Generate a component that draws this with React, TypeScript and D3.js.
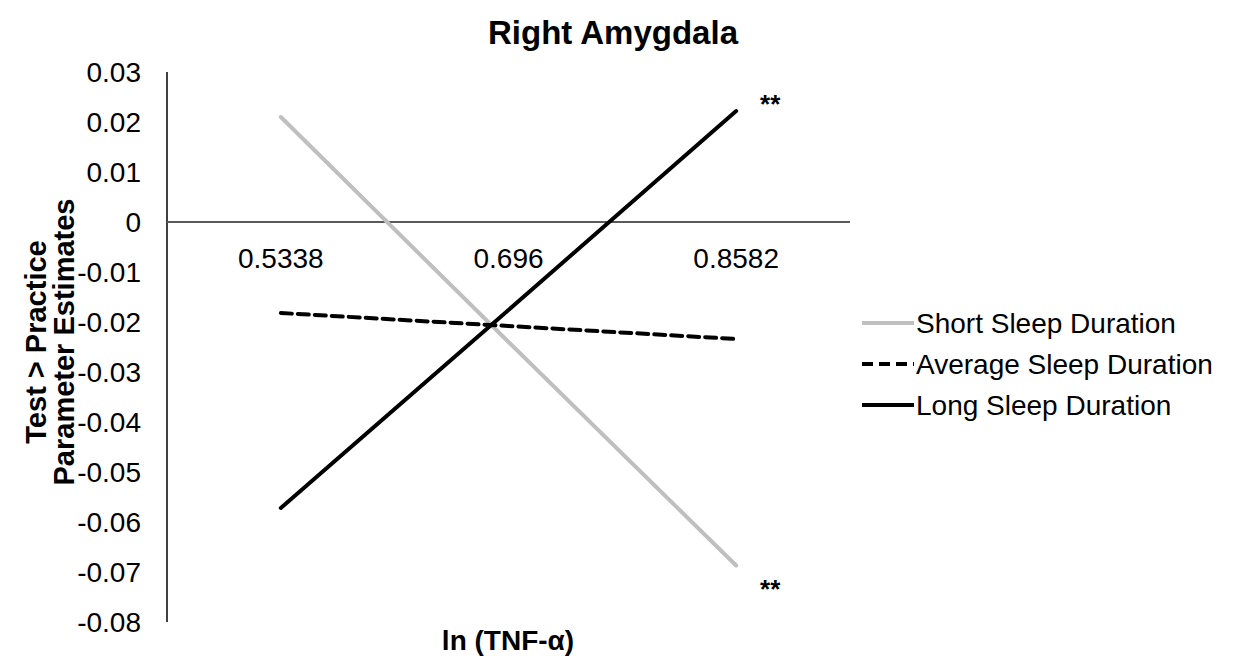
import React from "react";
import * as d3 from "d3";

const categories = ["0.5338", "0.696", "0.8582"];
const shortSleep = [0.021, -0.024, -0.0687];
const averageSleep = [-0.0182, -0.0208, -0.0234];
const longSleep = [-0.0572, -0.0176, 0.0222];
const yTicks = [0.03, 0.02, 0.01, 0, -0.01, -0.02, -0.03, -0.04, -0.05, -0.06, -0.07, -0.08];
const seriesNames = ["Short Sleep Duration", "Average Sleep Duration", "Long Sleep Duration"];
const annotations = [
  { cat: "0.8582", value: 0.0222, text: "**" },
  { cat: "0.8582", value: -0.0687, text: "**" },
];

const W = 1235;
const H = 664;
const FONT = "'Liberation Sans', Arial, Helvetica, sans-serif";

export default function App() {
  const x = d3.scaleBand<string>().domain(categories).range([167, 850]);
  const y = d3.scaleLinear().domain([-0.08, 0.03]).range([622, 72]);
  const cx = (c: string) => (x(c) as number) + x.bandwidth() / 2;

  const line = d3
    .line<number>()
    .x((_, i) => cx(categories[i]))
    .y((d) => y(d));

  const series = [
    { name: seriesNames[0], values: shortSleep, color: "#BFBFBF", dash: undefined },
    { name: seriesNames[1], values: averageSleep, color: "#000000", dash: "11,6" },
    { name: seriesNames[2], values: longSleep, color: "#000000", dash: undefined },
  ];

  return (
    <svg
      width={W}
      height={H}
      style={{ position: "absolute", left: 0, top: 0, background: "#fff" }}
      fontFamily={FONT}
    >
      <rect width={W} height={H} fill="#fff" />
      <text x={613} y={44} textAnchor="middle" fontSize={33} fontWeight="bold">
        Right Amygdala
      </text>

      {/* y ticks */}
      {yTicks.map((t) => (
        <text key={t} x={141} y={y(t)} dy="0.36em" textAnchor="end" fontSize={28}>
          {t === 0 ? "0" : d3.format(".2f")(t).replace("−", "-")}
        </text>
      ))}

      {/* y axis */}
      <line x1={167} x2={167} y1={y(0.03)} y2={y(-0.08)} stroke="#000" strokeWidth={1.5} />
      {/* zero line */}
      <line x1={167} x2={850} y1={y(0)} y2={y(0)} stroke="#595959" strokeWidth={2} />

      {/* category labels */}
      {categories.map((c) => (
        <text key={c} x={cx(c)} y={y(0) + 46} textAnchor="middle" fontSize={28}>
          {c}
        </text>
      ))}

      {/* lines */}
      {series.map((s) => (
        <path
          key={s.name}
          d={line(s.values) || ""}
          fill="none"
          stroke={s.color}
          strokeWidth={4}
          strokeDasharray={s.dash}
          strokeLinecap="round"
        />
      ))}

      {annotations.map((a, i) => (
        <text
          key={i}
          x={cx(a.cat) + 34}
          y={y(a.value) + (a.value > 0 ? 2 : 32)}
          textAnchor="middle"
          fontSize={26}
          fontWeight="bold"
        >
          {a.text}
        </text>
      ))}

      {/* axis titles */}
      <text x={508} y={650} textAnchor="middle" fontSize={28} fontWeight="bold">
        ln (TNF-α)
      </text>
      <g transform="translate(50,342) rotate(-90)">
        <text x={0} y={-4} textAnchor="middle" fontSize={29} fontWeight="bold">
          Test &gt; Practice
        </text>
        <text x={0} y={24} textAnchor="middle" fontSize={29} fontWeight="bold">
          Parameter Estimates
        </text>
      </g>

      {/* legend */}
      {series.map((s, i) => {
        const ly = 323 + i * 41;
        return (
          <g key={s.name}>
            <line
              x1={862}
              x2={914}
              y1={ly}
              y2={ly}
              stroke={s.color}
              strokeWidth={4}
              strokeDasharray={s.dash}
            />
            <text x={916} y={ly} dy="0.36em" fontSize={28}>
              {s.name}
            </text>
          </g>
        );
      })}
    </svg>
  );
}
